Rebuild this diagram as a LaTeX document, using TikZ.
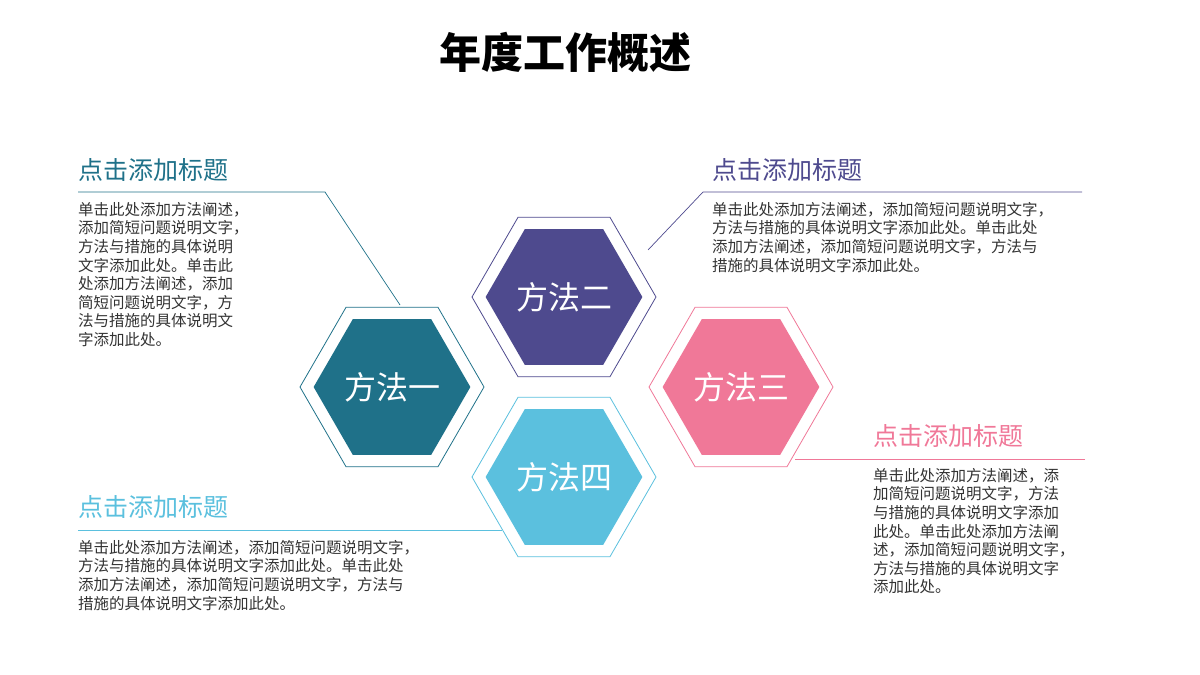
\documentclass[tikz,border=0pt]{standalone}
\usepackage{fontspec}
\setmainfont{Noto Sans CJK SC}
\usetikzlibrary{shapes.geometric}
\definecolor{cA}{HTML}{1F7189}
\definecolor{cB}{HTML}{4E4A8E}
\definecolor{cC}{HTML}{F07898}
\definecolor{cD}{HTML}{5BC0DE}
\definecolor{tx}{HTML}{333333}
\tikzset{
 x=1pt,y=-1pt,
 hexo/.style={regular polygon,regular polygon sides=6,minimum size=184pt,inner sep=0pt,draw=#1,line width=0.8pt,fill=white},
 hexi/.style={regular polygon,regular polygon sides=6,minimum size=154pt,inner sep=0pt,fill=#1,text=white,font=\fontsize{32}{32}\selectfont},
 head/.style={anchor=west,inner sep=0pt,text=#1,font=\fontsize{25}{25}\selectfont},
 body/.style={anchor=north west,inner sep=0pt,align=left,text=tx,font=\fontsize{15.5}{18.6}\selectfont},
 conn/.style={draw=#1,line width=0.7pt}
}
\begin{document}
\begin{tikzpicture}
\useasboundingbox (0,0) rectangle (1200,675);
\node[font=\bfseries\fontsize{42}{42}\selectfont,text=black] (title) at (565,52) {年度工作概述};
% hexagons
\node[hexo=cA] (h1o) at (392,387) {};
\node[hexi=cA] (h1) at (392,387) {方法一};
\node[hexo=cB] (h2o) at (564,297) {};
\node[hexi=cB] (h2) at (564,297) {方法二};
\node[hexo=cD] (h4o) at (564,477) {};
\node[hexi=cD] (h4) at (564,477) {方法四};
\node[hexo=cC] (h3o) at (741,387) {};
\node[hexi=cC] (h3) at (741,387) {方法三};
% block 1
\node[head=cA] (t1) at (78,170) {点击添加标题};
\coordinate (a1) at (78,192);
\coordinate (b1) at (325,192);
\coordinate (e1) at (400,305);
\draw[conn=cA] (a1) -- (b1) -- (e1);
\node[body] (p1) at (78,202) {单击此处添加方法阐述，\\添加简短问题说明文字，\\方法与措施的具体说明\\文字添加此处。单击此\\处添加方法阐述，添加\\简短问题说明文字，方\\法与措施的具体说明文\\字添加此处。};
% block 2
\node[head=cB] (t2) at (712,170) {点击添加标题};
\coordinate (a2) at (1082,192);
\coordinate (b2) at (703,192);
\coordinate (e2) at (648,250);
\draw[conn=cB] (a2) -- (b2) -- (e2);
\node[body] (p2) at (712,202) {单击此处添加方法阐述，添加简短问题说明文字，\\方法与措施的具体说明文字添加此处。单击此处\\添加方法阐述，添加简短问题说明文字，方法与\\措施的具体说明文字添加此处。};
% block 3
\node[head=cC] (t3) at (873,436) {点击添加标题};
\coordinate (a3) at (1085,459);
\coordinate (e3) at (795,459);
\draw[conn=cC] (a3) -- (e3);
\node[body] (p3) at (873,468) {单击此处添加方法阐述，添\\加简短问题说明文字，方法\\与措施的具体说明文字添加\\此处。单击此处添加方法阐\\述，添加简短问题说明文字，\\方法与措施的具体说明文字\\添加此处。};
% block 4
\node[head=cD] (t4) at (78,507) {点击添加标题};
\coordinate (a4) at (78,530);
\coordinate (e4) at (502,530);
\draw[conn=cD] (a4) -- (e4);
\node[body] (p4) at (78,540) {单击此处添加方法阐述，添加简短问题说明文字，\\方法与措施的具体说明文字添加此处。单击此处\\添加方法阐述，添加简短问题说明文字，方法与\\措施的具体说明文字添加此处。};
\end{tikzpicture}
\end{document}
